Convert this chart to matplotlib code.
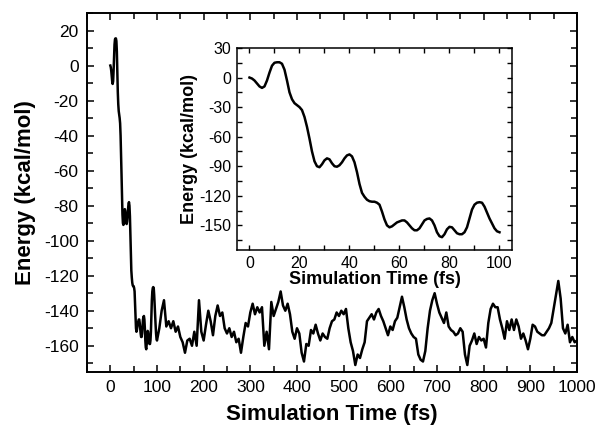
import matplotlib
matplotlib.use('Agg')
import matplotlib.pyplot as plt
from matplotlib.ticker import MultipleLocator

plt.rcParams['font.family'] = ['Liberation Sans', 'DejaVu Sans']
plt.rcParams['axes.unicode_minus'] = False

# first 100 fs, 1 fs steps (also shown in the inset)
t_early = list(range(0, 101))
e_early = [0, -1, -3, -6, -9, -10.5, -9, -3, 5, 12,
           15, 15.5, 15.5, 14, 8, -3, -15, -22, -26, -28,
           -30, -33, -40, -50, -62, -75, -85, -90, -91, -88,
           -84, -82, -83, -87, -90, -90.5, -89, -86, -82, -79,
           -78, -80, -86, -96, -108, -117, -121, -124, -125.5, -126,
           -126, -127, -129, -136, -144, -150, -152, -151, -149, -147,
           -146, -145, -145, -147, -150, -153, -155, -155, -153, -149,
           -145, -143.5, -143, -145, -150, -157, -161, -162, -159, -154,
           -151.5, -152, -155, -158, -159, -159, -157, -152, -143, -134,
           -129, -127, -126.5, -127, -131, -137, -143, -148, -153, -156,
           -157]

# 105..1000 fs, 5 fs steps
t_late = list(range(105, 1001, 5))
e_late = [-150, -140, -134, -149, -146, -150, -146, -152, -149, -155,
          -158, -164, -157, -156, -160, -152, -160, -134, -152, -157,
          -148, -140, -146, -154, -143, -137, -143, -141, -150, -153,
          -150, -155, -152, -158, -156, -164, -155, -147, -149, -141,
          -136, -142, -138, -141, -138, -160, -152, -162, -135, -143,
          -139, -135, -129, -137, -140, -136, -142, -152, -156, -150,
          -153, -164, -169, -159, -160, -151, -153, -148, -153, -157,
          -153, -155, -156, -150, -146, -145, -141, -143, -140, -142,
          -139, -150, -158, -163, -171, -165, -167, -162, -158, -146,
          -144, -142, -145, -141, -139, -143, -146, -150, -154, -149,
          -151, -146, -144, -138, -132, -138, -145, -150, -153, -155,
          -156, -165, -168, -169, -163, -150, -140, -134, -130, -136,
          -141, -144, -147, -141, -149, -151, -152, -154, -153, -150,
          -152, -165, -171, -160, -157, -153, -159, -155, -157, -156,
          -161, -147, -139, -136, -138, -138, -145, -150, -156, -146,
          -151, -145, -151, -145, -149, -156, -153, -157, -162, -156,
          -148, -149, -152, -153, -154, -154, -152, -150, -147, -139,
          -131, -123, -133, -150, -153, -148, -158, -155, -158, -157]

t_all = t_early + t_late
e_all = e_early + e_late

fig = plt.figure(figsize=(5.95, 4.28), dpi=100)

# main plot
ax = fig.add_axes([0.1462, 0.1308, 0.8235, 0.8388])
ax.plot(t_all, e_all, color='black', lw=1.8)
ax.set_xlim(-50, 1000)
ax.set_ylim(-175, 30)
ax.xaxis.set_major_locator(MultipleLocator(100))
ax.xaxis.set_minor_locator(MultipleLocator(50))
ax.yaxis.set_major_locator(MultipleLocator(20))
ax.yaxis.set_minor_locator(MultipleLocator(10))
ax.tick_params(which='both', direction='in', top=True, right=True,
               labelsize=12.5, width=1.1)
ax.tick_params(which='major', length=5, pad=6)
ax.tick_params(which='minor', length=4)
for s in ax.spines.values():
    s.set_linewidth(1.4)
ax.set_xlabel('Simulation Time (fs)', fontsize=16, fontweight='bold', labelpad=6)
ax.set_ylabel('Energy (kcal/mol)', fontsize=16, fontweight='bold', labelpad=6)

# inset: first 100 fs
ins = fig.add_axes([0.3983, 0.4159, 0.4622, 0.4720])
ins.plot(t_early, e_early, color='black', lw=1.8)
ins.set_xlim(-5, 105)
ins.set_ylim(-175, 30)
ins.xaxis.set_major_locator(MultipleLocator(20))
ins.xaxis.set_minor_locator(MultipleLocator(10))
ins.yaxis.set_major_locator(MultipleLocator(30))
ins.yaxis.set_minor_locator(MultipleLocator(15))
ins.tick_params(which='both', direction='in', top=True, right=True,
                labelsize=11.5, width=1.0, length=3.5, pad=4)
for s in ins.spines.values():
    s.set_linewidth(1.1)
ins.set_xlabel('Simulation Time (fs)', fontsize=13, fontweight='bold', labelpad=0)
ins.set_ylabel('Energy (kcal/mol)', fontsize=13, fontweight='bold', labelpad=1)

plt.savefig('out.png', dpi=100)
plt.close()
